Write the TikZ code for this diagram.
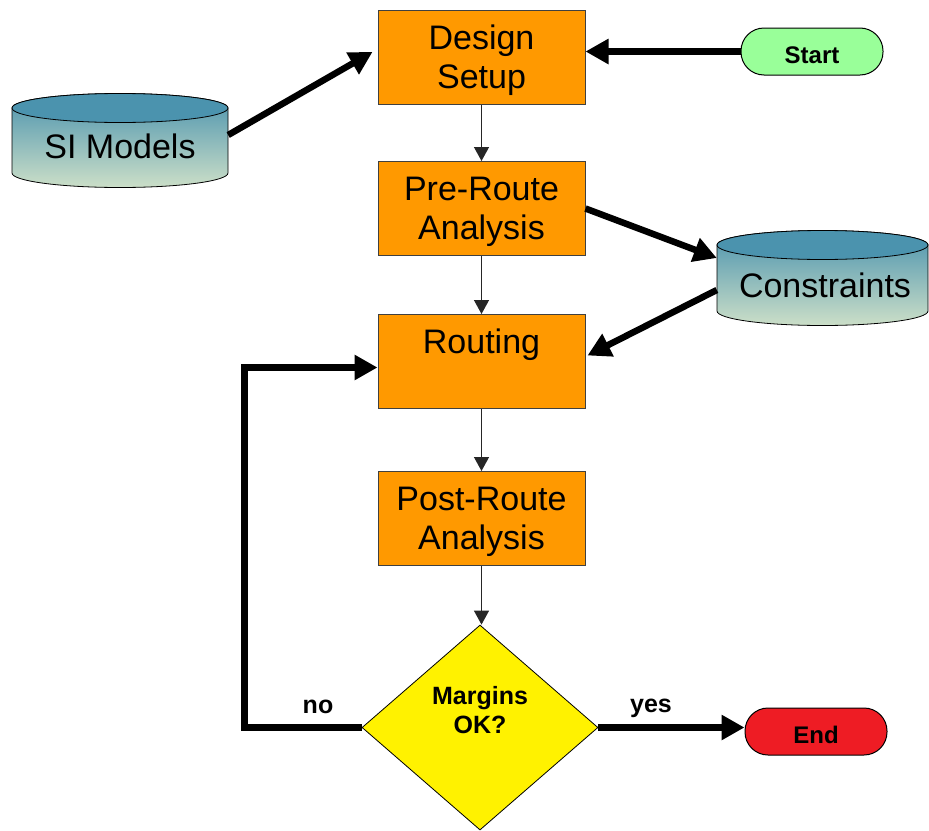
\documentclass[tikz,border=0pt]{standalone}
\usepackage{fontspec}
\setmainfont{Liberation Sans}
\usetikzlibrary{arrows.meta,shapes.geometric,calc}
\definecolor{boxorange}{HTML}{FF9900}
\definecolor{startgreen}{HTML}{99FF99}
\definecolor{endred}{HTML}{EE1C24}
\definecolor{cyltop}{HTML}{4B93AE}
\definecolor{cylbot}{HTML}{CCDFC8}
\definecolor{boxedge}{HTML}{404040}
\begin{document}
\begin{tikzpicture}[x=1pt,y=1pt,
 stepbox/.style={draw=boxedge, line width=1pt, fill=boxorange, minimum width=207pt, minimum height=94pt, inner sep=0pt, align=center, font=\fontsize{34}{39}\selectfont, text depth=0pt},
 terminal/.style={draw=black, line width=1pt, rounded corners=23pt, minimum width=142pt, minimum height=47pt, inner sep=0pt, font=\fontsize{24}{28}\selectfont\bfseries, text height=23pt, text depth=0pt},
 thinarrow/.style={draw=black!85, line width=1.3pt, -{Triangle[length=14pt,width=15pt]}},
 thickarrow/.style={draw=black, line width=6.5pt, -{Triangle[length=23pt,width=24pt]}},
 cylarea/.style={draw=none, inner sep=0pt},
 cyltext/.style={font=\fontsize{34}{39}\selectfont, inner sep=0pt},
 cylbody/.style={top color=cyltop, bottom color=cylbot, draw=black, line width=0.8pt},
 cylend/.style={fill=cyltop, draw=black, line width=0.8pt},
 lbl/.style={font=\fontsize{25}{29}\selectfont\bfseries, inner sep=0pt}]
\useasboundingbox (0,0) rectangle (929,-830);

% cylinders
\shadedraw[cylbody] (12,-108) -- (12,-173) arc[start angle=180,end angle=360,x radius=108,y radius=14.5] -- (228,-108) arc[start angle=0,end angle=180,x radius=108,y radius=14.5] -- cycle;
\draw[cylend] (120,-108) ellipse[x radius=108,y radius=14.5];
\node[cylarea, minimum width=216pt, minimum height=94pt] (si) at (120,-140) {};
\node[cyltext] (sitext) at (120,-146) {SI Models};

\shadedraw[cylbody] (717,-245) -- (717,-311) arc[start angle=180,end angle=360,x radius=105.5,y radius=14.5] -- (928,-245) arc[start angle=0,end angle=180,x radius=105.5,y radius=14.5] -- cycle;
\draw[cylend] (822.5,-245) ellipse[x radius=105.5,y radius=14.5];
\node[cylarea, minimum width=211pt, minimum height=96pt] (cons) at (822.5,-278) {};
\node[cyltext] (constext) at (825,-285) {Constraints};

% process boxes
\node[stepbox] (design) at (481.5,-57) {Design\\Setup};
\node[stepbox] (pre) at (481.5,-208.5) {Pre-Route\\Analysis};
\node[stepbox, text height=25pt, text depth=42pt] (routing) at (481.5,-361.5) {Routing};
\node[stepbox] (post) at (481.5,-518.5) {Post-Route\\Analysis};

% terminals
\node[terminal, fill=startgreen] (start) at (812,-51.5) {Start};
\node[terminal, fill=endred] (end) at (816,-731.5) {End};

% decision
\node[diamond, draw=black, line width=0.8pt, fill=yellow, minimum width=236pt, minimum height=205pt, inner sep=0pt, aspect=1.15] (dec) at (480,-727.5) {};
\node[lbl, align=center] (dectext) at (480,-710.4) {Margins\\OK?};
\node[lbl, anchor=base] (nolbl) at (318,-713) {no};
\node[lbl, anchor=base] (yeslbl) at (651,-712) {yes};

% connectors
\draw[thickarrow] ([yshift=5pt]si.east) -- ([shift={(-5pt,5pt)}]design.west);
\draw[thickarrow] (start.west) -- (start.west -| design.east);
\draw[thinarrow] (design.south) -- (pre.north);
\draw[thickarrow] (pre.east) -- ([yshift=20pt]cons.west);
\draw[thinarrow] (pre.south) -- (routing.north);
\draw[thickarrow] ([yshift=-12pt]cons.west) -- ([shift={(2pt,6pt)}]routing.east);
\draw[thinarrow] (routing.south) -- (post.north);
\draw[thinarrow] (post.south) -- (post.south |- dec.north);
\draw[thickarrow] (dec.west) -- ++(-117,0) |- ([yshift=-6pt]routing.west);
\draw[thickarrow] (dec.east) -- (dec.east -| end.west);
\end{tikzpicture}
\end{document}
